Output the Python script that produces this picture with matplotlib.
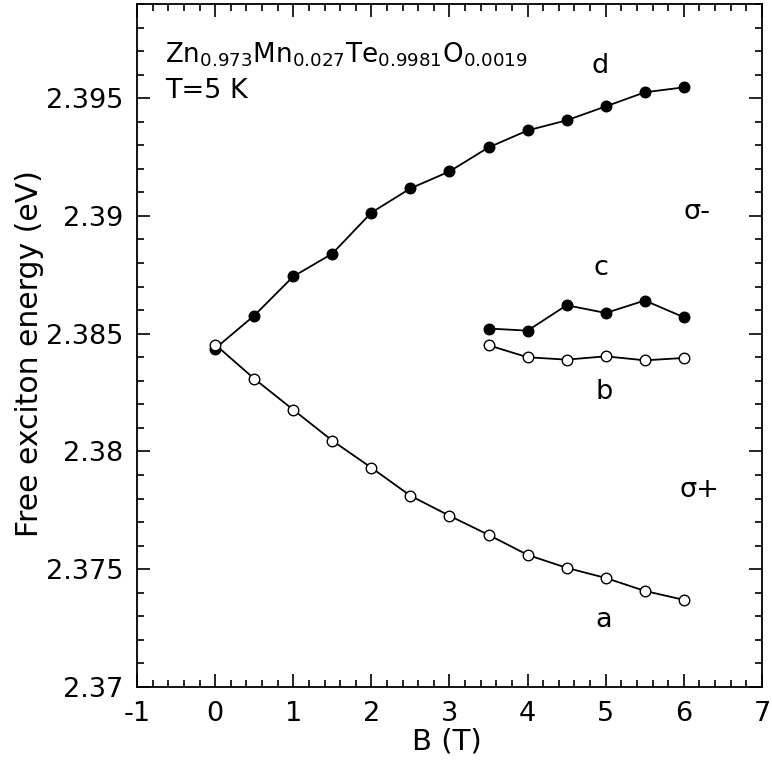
import numpy as np
import matplotlib
matplotlib.use('Agg')
import matplotlib.pyplot as plt
from matplotlib.ticker import MultipleLocator

plt.rcParams['mathtext.default'] = 'regular'
plt.rcParams['font.family'] = 'DejaVu Sans'

# field values (T)
B_full = [0, 0.5, 1, 1.5, 2, 2.5, 3, 3.5, 4, 4.5, 5, 5.5, 6]
B_high = [3.5, 4, 4.5, 5, 5.5, 6]

# sigma- branches (filled)
E_d = [2.38437, 2.38577, 2.38743, 2.38840, 2.39014, 2.39117, 2.39189,
       2.39291, 2.39363, 2.39406, 2.39465, 2.39525, 2.39546]
E_c = [2.38522, 2.38513, 2.38621, 2.38588, 2.38641, 2.38570]
# sigma+ branches (open)
E_a = [2.38454, 2.38309, 2.38177, 2.38046, 2.37931, 2.37812, 2.37727,
       2.37646, 2.37561, 2.37506, 2.37463, 2.37408, 2.37370]
E_b = [2.38451, 2.38400, 2.38390, 2.38404, 2.38387, 2.38397]

fs = 19.5
fig = plt.figure(figsize=(7.72, 7.62), dpi=100)
ax = fig.add_axes([0.1775, 0.0984, 0.8095, 0.8964])

filled = dict(color='k', lw=1.3, marker='o', ms=7.6, mfc='k', mec='k')
hollow = dict(color='k', lw=1.3, marker='o', ms=7.6, mfc='white', mec='k', mew=1.0)
ax.plot(B_full, E_d, **filled)
ax.plot(B_high, E_c, **filled)
ax.plot(B_full, E_a, **hollow)
ax.plot(B_high, E_b, **hollow)

ax.set_xlim(-1, 7)
ax.set_ylim(2.37, 2.399)
ax.xaxis.set_minor_locator(MultipleLocator(0.2))
ax.yaxis.set_minor_locator(MultipleLocator(0.001))
ax.set_yticks([2.37, 2.375, 2.38, 2.385, 2.39, 2.395])
ax.set_yticklabels(['2.37', '2.375', '2.38', '2.385', '2.39', '2.395'])
ax.set_xticks(range(-1, 8))
ax.set_xticklabels([str(v) for v in range(-1, 8)])
ax.tick_params(which='both', direction='in', top=True, right=True,
               labelsize=fs, width=1.2)
ax.tick_params(which='major', length=9.5, pad=10)
ax.tick_params(which='minor', length=5)
for s in ax.spines.values():
    s.set_linewidth(1.3)

ax.set_xlabel('B (T)', fontsize=21)
ax.set_ylabel('Free exciton energy (eV)', fontsize=21.5)
ax.xaxis.set_label_coords(0.496, -0.0586)
ax.yaxis.set_label_coords(-0.149, 0.488)

ax.text(0.0448, 0.9136, r'Zn$_{0.973}$Mn$_{0.027}$Te$_{0.9981}$O$_{0.0019}$',
        fontsize=18.8, va='baseline', ha='left', transform=ax.transAxes)
ax.text(0.0448, 0.8624, 'T=5 K', fontsize=fs, va='baseline', ha='left',
        transform=ax.transAxes)

for lab, x, y in [('d', 4.93, 2.39635), ('σ-', 6.17, 2.39015),
                  ('c', 4.94, 2.38781), ('b', 4.98, 2.38254),
                  ('σ+', 6.20, 2.37837), ('a', 4.98, 2.37285)]:
    ax.text(x, y, lab, fontsize=fs, ha='center', va='center')

fig.savefig('out.png', dpi=100)
